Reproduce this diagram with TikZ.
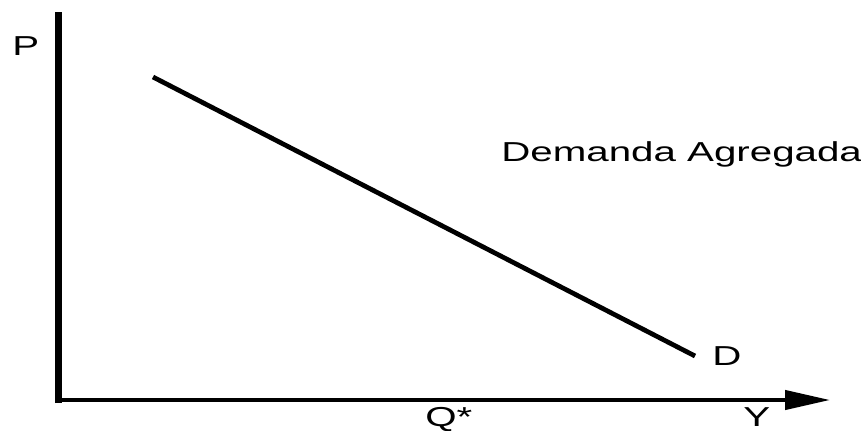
\documentclass[tikz,border=0pt]{standalone}
\usepackage{fontspec}
\setmainfont{Liberation Sans}
\newfontfamily\widesans[FakeStretch=1.47]{Liberation Sans}
\usetikzlibrary{arrows.meta}

\begin{document}
\begin{tikzpicture}[x=0.02cm, y=-0.02cm,
    lbl/.style={anchor=base west, inner sep=0pt, font=\widesans\fontsize{15.6}{18}\selectfont}]
    \useasboundingbox (0,0) rectangle (861,430);
    %mark points on axes and curve
        \coordinate[] (O) at (58.5,403);
        \coordinate[] (T) at (58.5,12);
        \coordinate[] (H) at (55,400);
        \coordinate[] (Y) at (830,400);
        \coordinate[] (A) at (153,77);
        \coordinate[] (B) at (695,356);

    %draw axes and demand line
        \draw[line width=4pt] (O) -- (T);
        \draw[line width=2.3pt, -{Triangle[length=25.5pt, width=10.8pt]}] (H) -- (Y);
        \draw[line width=2.7pt] (A) -- (B);

    %labels
        \node[lbl] (p) at (12,55) {P};
        \node[lbl] (da) at (501,161) {Demanda Agregada};
        \node[lbl] (d) at (712,365) {D};
        \node[lbl] (q) at (425,426) {Q*};
        \node[lbl] (y) at (743,426) {Y};
\end{tikzpicture}
\end{document}
